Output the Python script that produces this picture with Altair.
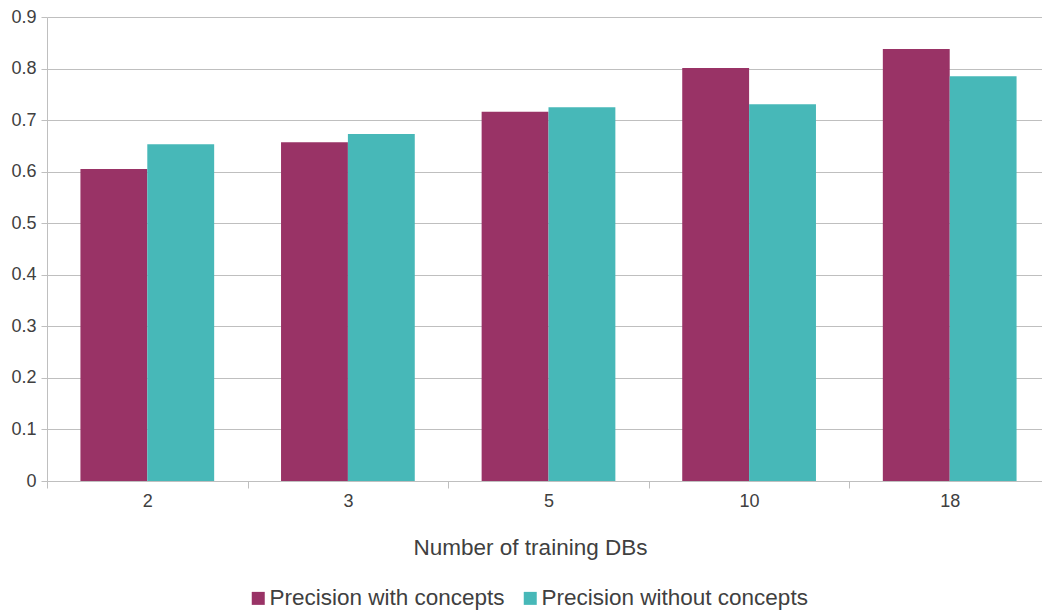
import altair as alt
import pandas as pd

# Number of training databases on the x axis
training_dbs = ["2", "3", "5", "10", "18"]
series_names = ["Precision with concepts", "Precision without concepts"]
with_concepts = [0.605, 0.657, 0.716, 0.801, 0.838]
without_concepts = [0.653, 0.673, 0.725, 0.731, 0.785]
series_colors = ["#993366", "#47B8B8"]

rows = []
for db, a, b in zip(training_dbs, with_concepts, without_concepts):
    rows.append({"dbs": db, "series": series_names[0], "precision": a})
    rows.append({"dbs": db, "series": series_names[1], "precision": b})
df = pd.DataFrame(rows)

text_color = "#404040"
grid_color = "#BFBFBF"
font = "Liberation Sans"

# the band scale runs a little past the right edge of the page, so the last
# category boundary falls just outside the drawing
chart = (
    alt.Chart(df)
    .mark_bar()
    .encode(
        x=alt.X(
            "dbs:N",
            sort=training_dbs,
            scale=alt.Scale(paddingInner=0, paddingOuter=0, range=[0, 1003]),
            axis=alt.Axis(
                title="Number of training DBs",
                labelAngle=0,
                tickBand="extent",
                tickSize=7,
                tickColor=grid_color,
                domainColor=grid_color,
                labelPadding=4,
                labelFontSize=18,
                labelColor=text_color,
                labelFont=font,
                titleFontSize=22.5,
                titleFontWeight="normal",
                titleColor=text_color,
                titleFont=font,
                titlePadding=26,
                titleX=483,
                titleAnchor="middle",
            ),
        ),
        xOffset=alt.XOffset(
            "series:N",
            sort=series_names,
            scale=alt.Scale(paddingInner=0, paddingOuter=0.5),
        ),
        y=alt.Y(
            "precision:Q",
            scale=alt.Scale(domain=[0, 0.9], nice=False),
            axis=alt.Axis(
                title=None,
                values=[0, 0.1, 0.2, 0.3, 0.4, 0.5, 0.6, 0.7, 0.8, 0.9],
                format="~g",
                tickSize=6,
                tickColor=grid_color,
                domainColor=grid_color,
                gridColor=grid_color,
                labelPadding=5,
                labelFontSize=18,
                labelColor=text_color,
                labelFont=font,
            ),
        ),
        color=alt.Color(
            "series:N",
            sort=series_names,
            scale=alt.Scale(domain=series_names, range=series_colors),
            legend=alt.Legend(
                title=None,
                orient="none",
                direction="horizontal",
                legendX=200,
                legendY=570,
                symbolType="square",
                symbolSize=169,
                symbolStrokeWidth=0,
                symbolOpacity=1,
                labelFontSize=22.5,
                labelColor=text_color,
                labelFont=font,
                labelOffset=0,
                labelLimit=0,
                columnPadding=14,
            ),
        ),
    )
    .properties(
        width=995,
        height=464,
        autosize=alt.AutoSizeParams(type="none"),
        padding={"left": 47, "top": 17, "right": 0, "bottom": 132},
    )
    .configure_view(stroke=None)
    .configure_axis(grid=True)
    .configure_axisX(grid=False)
)

chart.save("out.html", embed_options={"renderer": "svg", "actions": False})
